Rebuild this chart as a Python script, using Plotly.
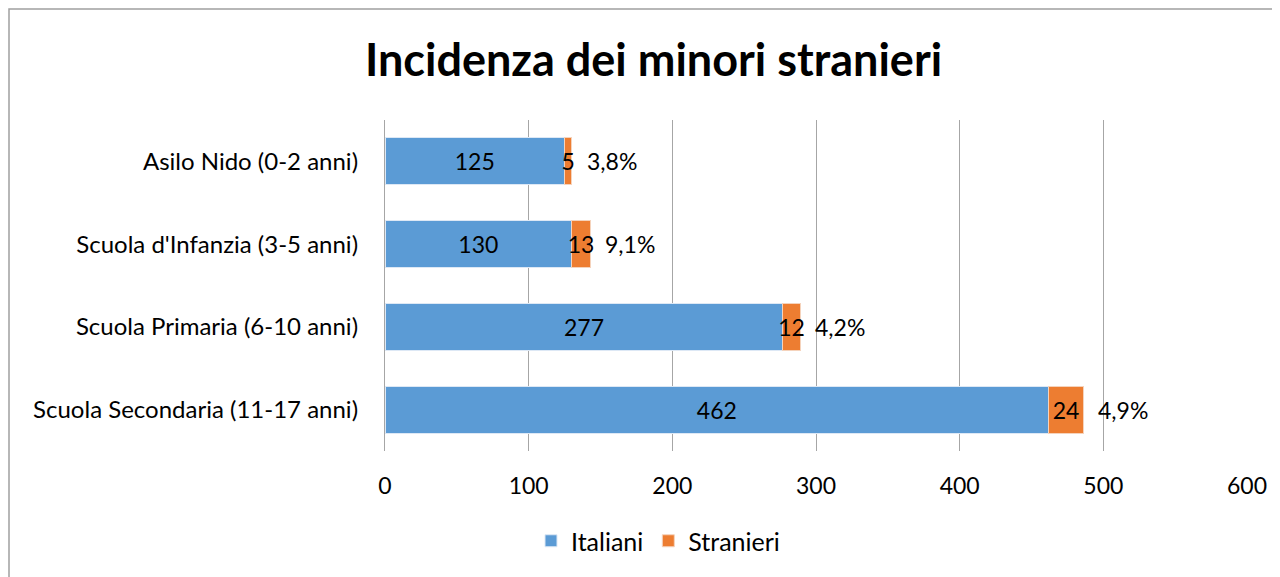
import plotly.graph_objects as go

categories = ["Asilo Nido (0-2 anni)", "Scuola d'Infanzia (3-5 anni)",
              "Scuola Primaria (6-10 anni)", "Scuola Secondaria (11-17 anni)"]
italiani = [125, 130, 277, 462]
stranieri = [5, 13, 12, 24]
percentuali = ["3,8%", "9,1%", "4,2%", "4,9%"]
x_ticks = [0, 100, 200, 300, 400, 500, 600]

FONT = "Lato, 'Open Sans', sans-serif"
OFF = 8  # page body margin
W, H = 1280 - OFF, 577 - OFF
L, T = 385 - OFF, 120 - OFF
pw, ph = 862, 331
R, B = W - L - pw, H - T - ph
FS = 23

fig = go.Figure()
fig.add_trace(go.Bar(
    y=categories, x=italiani, name="Italiani", orientation="h",
    marker=dict(color="#5B9BD5", line=dict(color="#DDE8F5", width=1)),
    text=[str(v) for v in italiani], textposition="inside",
    insidetextanchor="middle", constraintext="none",
    textfont=dict(size=FS, color="#000000", family=FONT),
))
fig.add_trace(go.Bar(
    y=categories, x=stranieri, name="Stranieri", orientation="h",
    marker=dict(color="#ED7D31", line=dict(color="#F5D3BC", width=1)),
    text=[str(v) for v in stranieri], textposition="inside",
    insidetextanchor="middle", constraintext="none",
    textfont=dict(size=FS, color="#000000", family=FONT),
))

for c, a, s, p in zip(categories, italiani, stranieri, percentuali):
    fig.add_annotation(x=a + s, y=c, text=p, showarrow=False,
                       xanchor="left", yanchor="middle", xshift=13,
                       font=dict(size=FS, color="#000000", family=FONT))

# outer chart border
fig.add_shape(type="rect", xref="paper", yref="paper",
              x0=(9 - OFF - L) / pw, x1=(W + 20 - L) / pw,
              y0=-(H + 20 - T - ph) / ph, y1=(T + ph - (9 - OFF)) / ph,
              line=dict(color="#A0A0A0", width=1.5), fillcolor="rgba(0,0,0,0)",
              layer="below")

fig.update_layout(
    width=W, height=H,
    margin=dict(l=L, r=R, t=T, b=B, pad=0, autoexpand=False),
    paper_bgcolor="white", plot_bgcolor="white",
    barmode="stack", bargap=0.43,
    font=dict(family=FONT, size=FS, color="#000000"),
    title=dict(text="<b>Incidenza dei minori stranieri</b>",
               font=dict(size=45, family=FONT, color="#000000"),
               x=(653.5 - OFF) / W, xanchor="center",
               y=1 - (60 - OFF) / H, yanchor="middle",
               xref="container", yref="container"),
    showlegend=True,
    legend=dict(orientation="h", x=(658 - 385) / pw, xanchor="center",
                y=-(541 - 120 - ph) / ph, yanchor="middle",
                font=dict(size=25, family=FONT), itemwidth=30,
                traceorder="normal"),
    xaxis=dict(range=[0, 600], tickvals=x_ticks, showgrid=True,
               gridcolor="#A6A6A6", gridwidth=1.3, zeroline=False,
               showline=False, ticks="", ticklabelstandoff=19,
               tickfont=dict(size=FS, family=FONT)),
    yaxis=dict(autorange="reversed", showgrid=False, showline=True,
               linecolor="#A6A6A6", linewidth=1.3, ticks="",
               ticklabelstandoff=21, tickfont=dict(size=24, family=FONT)),
)

fig.write_html("out.html")
